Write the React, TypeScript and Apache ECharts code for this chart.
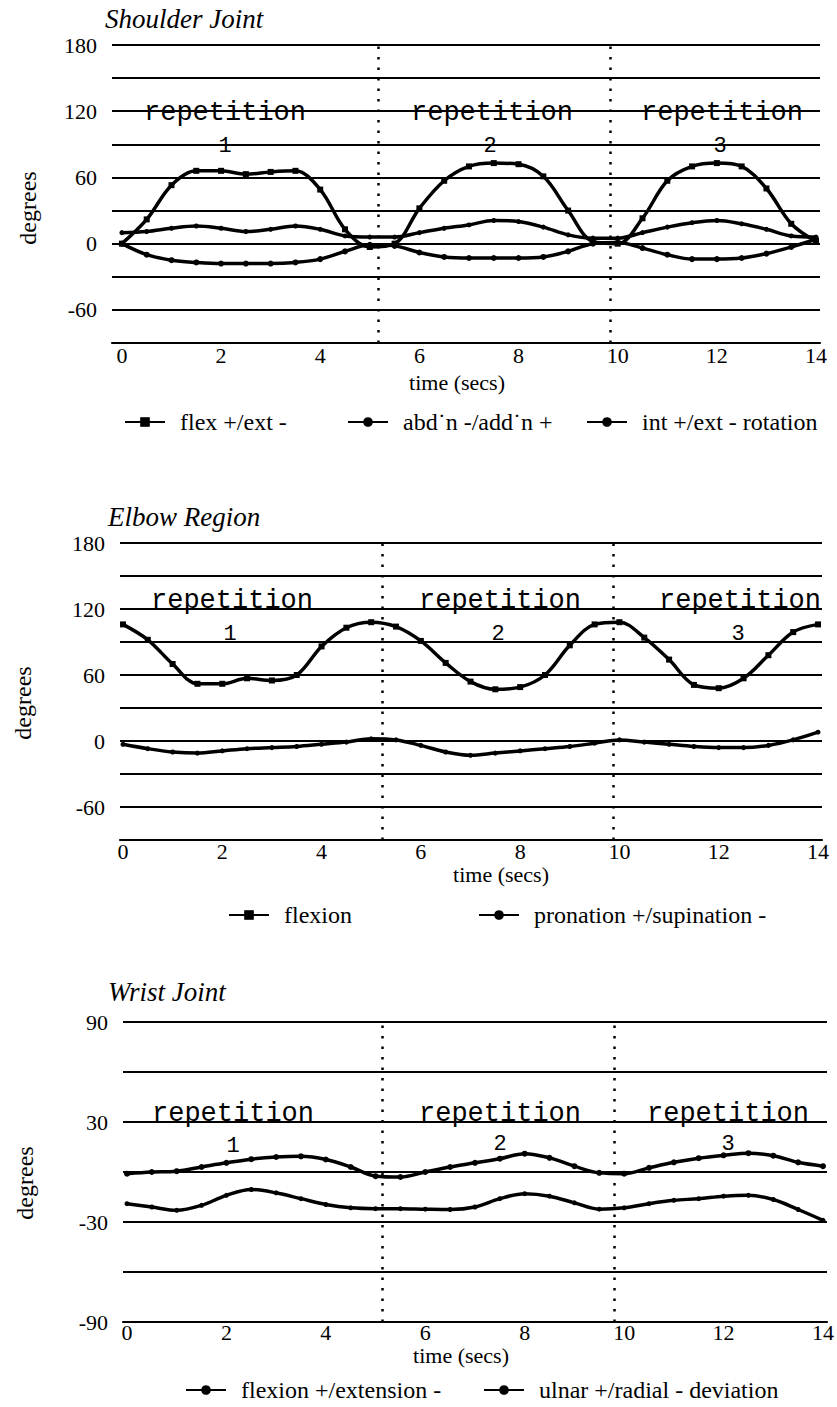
import React, { useEffect, useRef } from "react";
import * as echarts from "echarts";

const times = [0, 0.5, 1, 1.5, 2, 2.5, 3, 3.5, 4, 4.5, 5, 5.5, 6, 6.5, 7, 7.5, 8, 8.5, 9, 9.5, 10, 10.5, 11, 11.5, 12, 12.5, 13, 13.5, 14];

const shoulderFlex = [0, 22, 53, 66, 66, 63, 65, 66, 49, 13, -3, 0, 32, 57, 70, 73, 72, 61, 30, 2, 0, 23, 57, 70, 73, 70, 50, 18, 2];
const shoulderAbd = [10, 11, 14, 16, 14, 11, 13, 16, 13, 7, 6, 6, 10, 14, 17, 21, 20, 15, 8, 5, 5, 10, 15, 19, 21, 18, 13, 7, 6];
const shoulderRot = [0, -10, -15, -17, -18, -18, -18, -17, -14, -7, -1, -2, -8, -12, -13, -13, -13, -12, -7, 0, 1, -4, -10, -14, -14, -13, -9, -3, 4];

const elbowFlex = [106, 92, 70, 52, 52, 57, 55, 60, 86, 103, 108, 104, 91, 71, 54, 47, 49, 60, 87, 106, 108, 94, 74, 51, 48, 57, 78, 99, 106];
const elbowPron = [-3, -7, -10, -11, -9, -7, -6, -5, -3, -1, 2, 1, -4, -10, -13, -11, -9, -7, -5, -2, 1, -1, -3, -5, -6, -6, -4, 1, 8];

const wristFlex = [-1, 0, 0.5, 3, 5.5, 7.7, 9, 9.4, 7.5, 3, -2.5, -3, 0, 3, 5.5, 8, 11, 8.5, 3.5, -0.5, -1, 2.5, 5.8, 8.3, 10, 11.3, 9.8, 5.8, 3.5];
const wristUlnar = [-19, -21, -23, -20, -14, -10.5, -12.5, -16, -19.5, -21.5, -22, -22, -22.3, -22.5, -21, -16, -13, -14.5, -18.5, -22.3, -21.5, -19, -17, -16, -14.5, -14, -16.5, -22.5, -29];

const xTicks = [0, 2, 4, 6, 8, 10, 12, 14];
const shoulderBounds = [5.18, 9.84];
const elbowBounds = [5.22, 9.87];
const wristBounds = [5.13, 9.81];

const titles = ["Shoulder Joint", "Elbow Region", "Wrist Joint"];
const repWord = "repetition";
const repNums = ["1", "2", "3"];

const SERIF = '"Liberation Serif", "Times New Roman", serif';
const MONO = '"Liberation Mono", "Courier New", monospace';

function pts(arr: number[]) {
  return times.map((t, i) => [t, arr[i]]);
}

function App() {
  const ref = useRef<HTMLDivElement>(null);
  useEffect(() => {
    if (!ref.current) return;
    const chart = echarts.init(ref.current, undefined, { renderer: "svg" });

    const grids = [
      { left: 112, width: 708, top: 45, height: 298 },
      { left: 120, width: 702, top: 543, height: 297 },
      { left: 123, width: 706, top: 1022, height: 300 },
    ];
    const xRanges = [
      [-0.2, 14.08],
      [-0.06, 14.08],
      [-0.08, 14.08],
    ];
    const yRanges = [
      [-90, 180],
      [-90, 180],
      [-90, 90],
    ];
    const xMargins = [3, 2, 1];

    const xAxes = grids.map((_, i) => ({
      type: "value",
      gridIndex: i,
      min: xRanges[i][0],
      max: xRanges[i][1],
      axisLine: { show: true, onZero: false, lineStyle: { color: "#000", width: 2.2 } },
      axisTick: { show: false },
      splitLine: { show: false },
      axisLabel: {
        customValues: xTicks,
        color: "#000",
        fontFamily: SERIF,
        fontSize: 22,
        lineHeight: 18,
        margin: xMargins[i],
        formatter: (v: number) => String(Math.round(v)),
      },
    }));

    const yAxes = grids.map((_, i) => ({
      type: "value",
      gridIndex: i,
      min: yRanges[i][0],
      max: yRanges[i][1],
      interval: 30,
      axisLine: { show: false },
      axisTick: { show: false },
      splitLine: { show: true, lineStyle: { color: "#000", width: 2 } },
      axisLabel: {
        color: "#000",
        fontFamily: SERIF,
        fontSize: 22,
        margin: 15,
        formatter: (v: number) => {
          if (i === 2) return (v + 90) % 60 === 0 ? String(v) : "";
          return v % 60 === 0 ? String(v) : "";
        },
      },
    }));

    const mkLine = (bounds: number[]) => ({
      silent: true,
      symbol: "none",
      label: { show: false },
      lineStyle: { color: "#000", type: [2.5, 8], width: 2.5 },
      data: bounds.map((b) => ({ xAxis: b })),
    });

    const line = (name: string, data: number[], gi: number, symbol: string, size: number, extra: any = {}) => ({
      type: "line",
      name,
      xAxisIndex: gi,
      yAxisIndex: gi,
      data: pts(data),
      smooth: 0.35,
      symbol,
      symbolSize: size,
      showSymbol: true,
      lineStyle: { color: "#000", width: 3.5 },
      itemStyle: { color: "#000" },
      z: 3,
      ...extra,
    });

    const series = [
      line("flex +/ext -", shoulderFlex, 0, "rect", 6, { markLine: mkLine(shoulderBounds) }),
      line("abd\u02D9n -/add\u02D9n +", shoulderAbd, 0, "circle", 5),
      line("int +/ext - rotation", shoulderRot, 0, "circle", 6),
      line("flexion", elbowFlex, 1, "rect", 6, { markLine: mkLine(elbowBounds) }),
      line("pronation +/supination -", elbowPron, 1, "circle", 5),
      line("flexion +/extension -", wristFlex, 2, "circle", 6, { markLine: mkLine(wristBounds) }),
      line("ulnar +/radial - deviation", wristUlnar, 2, "circle", 5),
    ];

    const legendPos = [
      { name: "flex +/ext -", left: 124, top: 410 },
      { name: "abd\u02D9n -/add\u02D9n +", left: 347, top: 410 },
      { name: "int +/ext - rotation", left: 586, top: 410 },
      { name: "flexion", left: 228, top: 903 },
      { name: "pronation +/supination -", left: 478, top: 903 },
      { name: "flexion +/extension -", left: 185, top: 1378 },
      { name: "ulnar +/radial - deviation", left: 483, top: 1378 },
    ];
    const legends = legendPos.map((p) => ({
      left: p.left,
      top: p.top,
      data: [p.name],
      itemWidth: 40,
      itemHeight: 12,
      selectedMode: false,
      padding: 0,
      textStyle: { color: "#000", fontFamily: SERIF, fontSize: 24, lineHeight: 20, padding: [0, 0, 0, 10] },
    }));

    const txt = (text: string, x: number, y: number, font: any, align = "center", rotation = 0) => ({
      type: "text",
      x,
      y,
      rotation,
      z: 10,
      style: {
        text,
        fill: "#000",
        align,
        verticalAlign: "middle",
        textAlign: align,
        textVerticalAlign: "middle",
        ...font,
      },
    });

    const serifFont = { fontFamily: SERIF, fontSize: 24 };
    const timeFont = { fontFamily: SERIF, fontSize: 22, lineHeight: 18 };
    const titleFont = { fontFamily: SERIF, fontSize: 27, fontStyle: "italic" };
    const monoFont = { fontFamily: MONO, fontSize: 27 };
    const numFont = { fontFamily: MONO, fontSize: 22 };

    const graphics: any[] = [
      txt(titles[0], 105, 19, titleFont, "left"),
      txt(titles[1], 108, 517, titleFont, "left"),
      txt(titles[2], 108, 992, titleFont, "left"),
      txt("degrees", 28, 208, serifFont, "center", Math.PI / 2),
      txt("degrees", 23, 703, serifFont, "center", Math.PI / 2),
      txt("degrees", 25, 1183, serifFont, "center", Math.PI / 2),
      txt("time (secs)", 457, 382, timeFont),
      txt("time (secs)", 501, 874, timeFont),
      txt("time (secs)", 461, 1355, timeFont),
      // shoulder repetitions
      txt(repWord, 225, 113, monoFont),
      txt(repWord, 492, 113, monoFont),
      txt(repWord, 722, 113, monoFont),
      txt(repNums[0], 225, 146, numFont),
      txt(repNums[1], 490, 146, numFont),
      txt(repNums[2], 720, 146, numFont),
      // elbow repetitions
      txt(repWord, 232, 601, monoFont),
      txt(repWord, 500, 601, monoFont),
      txt(repWord, 740, 601, monoFont),
      txt(repNums[0], 230, 634, numFont),
      txt(repNums[1], 498, 634, numFont),
      txt(repNums[2], 738, 634, numFont),
      // wrist repetitions
      txt(repWord, 233, 1114, monoFont),
      txt(repWord, 500, 1114, monoFont),
      txt(repWord, 728, 1114, monoFont),
      txt(repNums[0], 233, 1146, numFont),
      txt(repNums[1], 500, 1144, numFont),
      txt(repNums[2], 728, 1144, numFont),
    ];

    chart.setOption({
      animation: false,
      backgroundColor: "#fff",
      grid: grids,
      xAxis: xAxes,
      yAxis: yAxes,
      legend: legends,
      series,
      graphic: graphics,
    });

    return () => chart.dispose();
  }, []);

  return (
    <div
      ref={ref}
      style={{ position: "absolute", left: 0, top: 0, width: 837, height: 1407, background: "#fff" }}
    />
  );
}

export default App;
